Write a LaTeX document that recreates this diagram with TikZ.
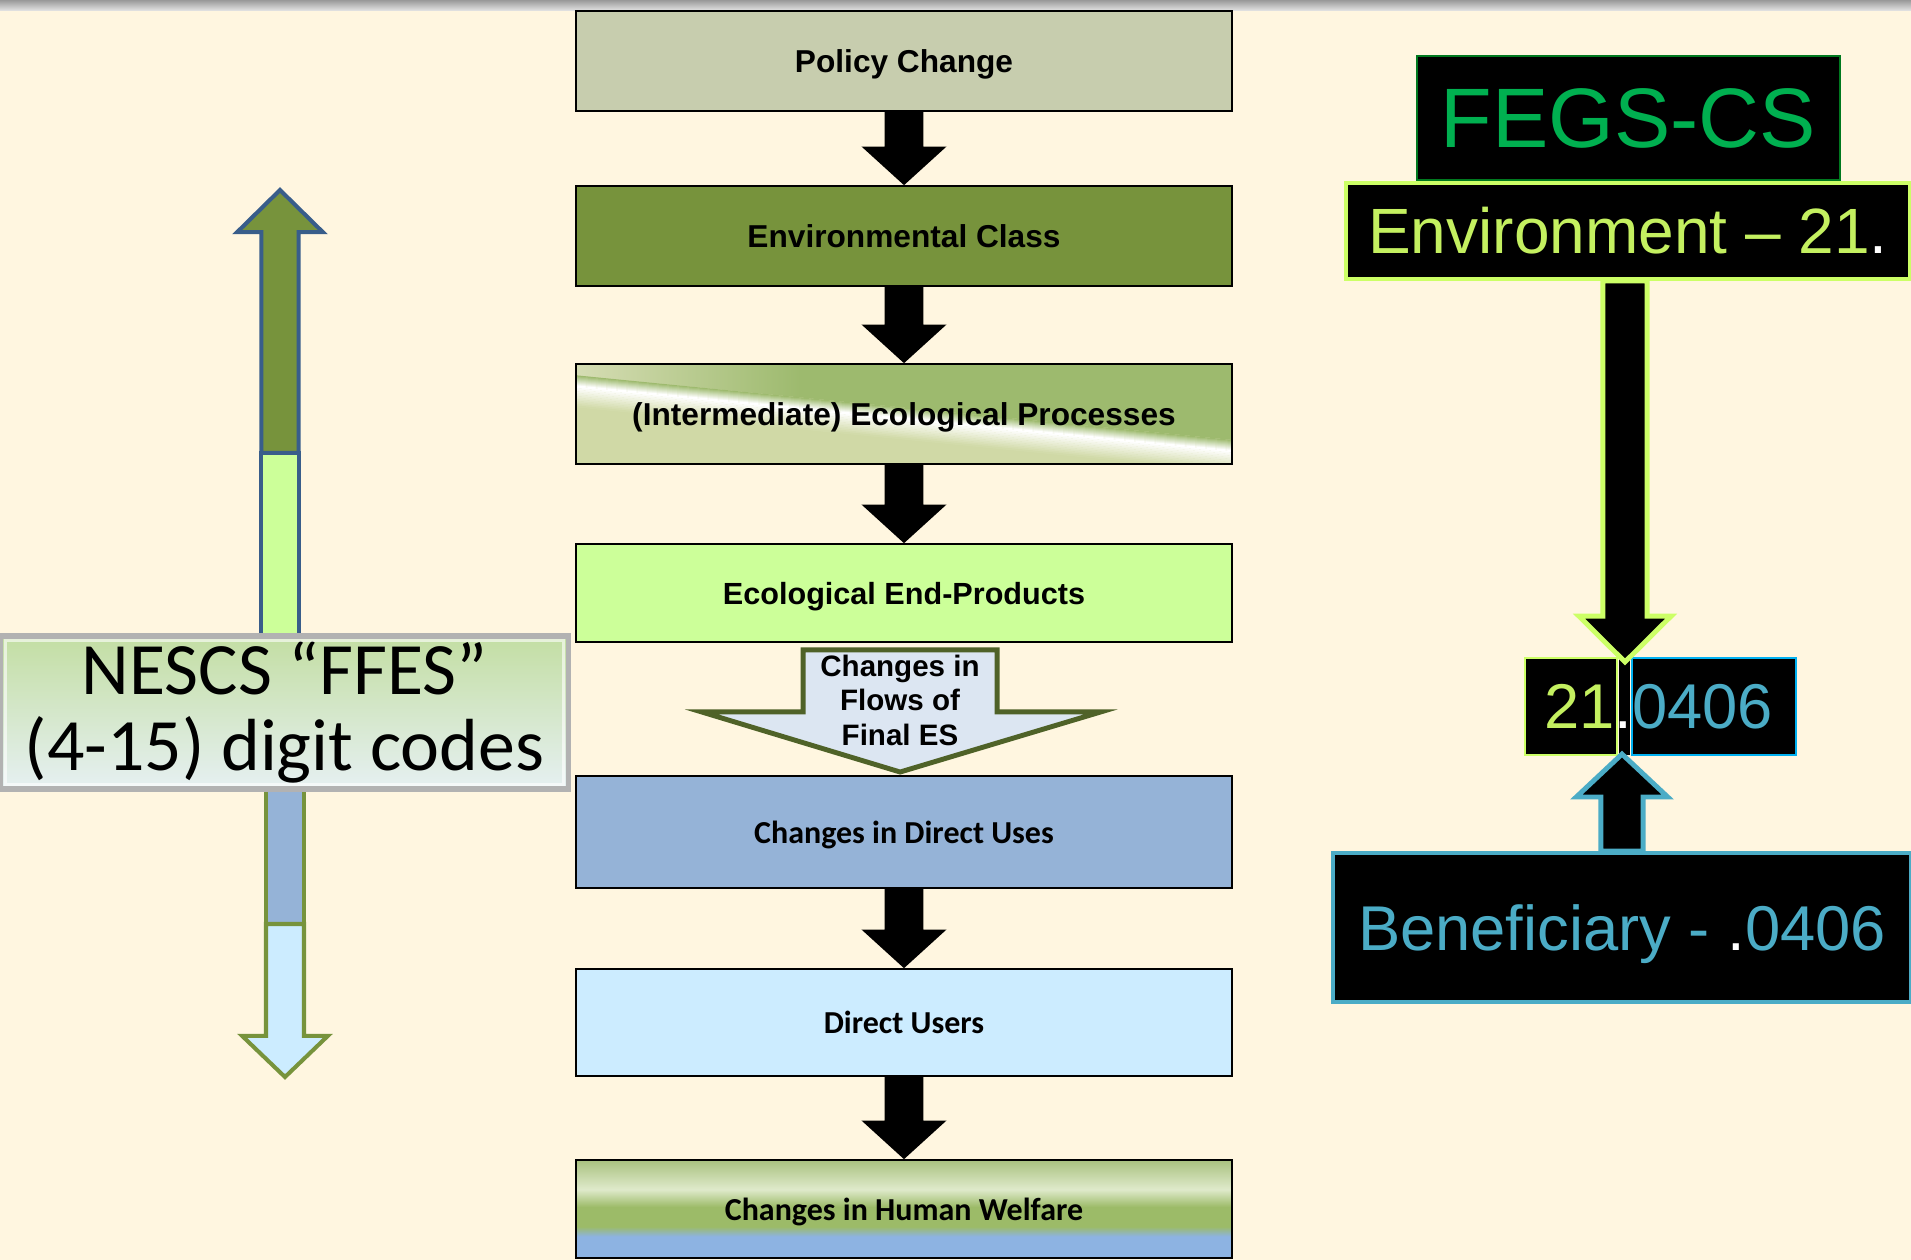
\documentclass[tikz,border=0pt]{standalone}
\usepackage{fontspec}
\setmainfont{Liberation Sans}
\newfontfamily\calibri{Carlito}
\usetikzlibrary{calc}

\definecolor{cream}{HTML}{FFF6E0}
\definecolor{policyfill}{HTML}{C7CDAE}
\definecolor{envfill}{HTML}{77933C}
\definecolor{intlight}{HTML}{D0D9A6}
\definecolor{intpale}{HTML}{D6DDB4}
\definecolor{intdark}{HTML}{9DBA6E}
\definecolor{endfill}{HTML}{CCFF99}
\definecolor{usesfill}{HTML}{95B3D7}
\definecolor{usersfill}{HTML}{CCECFF}
\definecolor{welfareblue}{HTML}{8DB3E2}
\definecolor{welfaregreen}{HTML}{9CBB68}
\definecolor{welfarepale}{HTML}{DFEACB}
\definecolor{welfaretop}{HTML}{A9C17F}
\definecolor{flowfill}{HTML}{DCE6F2}
\definecolor{flowline}{HTML}{4F6228}
\definecolor{upline}{HTML}{385D8A}
\definecolor{downline}{HTML}{77933C}
\definecolor{fegsgreen}{HTML}{00B050}
\definecolor{fegsline}{HTML}{00791F}
\definecolor{envtext}{HTML}{C4F060}
\definecolor{envline}{HTML}{CCFF66}
\definecolor{benblue}{HTML}{4BACC6}
\definecolor{codeblue}{HTML}{00B0F0}
\definecolor{nescstop}{HTML}{C3DEA3}
\definecolor{nescsbottom}{HTML}{E6F0F2}

\pgfdeclareverticalshading{welfare}{100bp}{color(0bp)=(welfareblue); color(36bp)=(welfareblue); color(41bp)=(welfaregreen); color(51bp)=(welfaregreen); color(60bp)=(welfarepale); color(75bp)=(welfaretop); color(100bp)=(welfaretop)}

\newcommand{\blockarrow}[6]{%
	\coordinate (ba-s) at #2;
	\coordinate (ba-e) at #3;
	\coordinate (ba-h) at ($(ba-e)!#6!(ba-s)$);
	\path[#1] ($(ba-s)!#4!90:(ba-e)$) -- ($(ba-h)!#4!-90:(ba-s)$) -- ($(ba-h)!#5!-90:(ba-s)$) --
		(ba-e) -- ($(ba-h)!#5!90:(ba-s)$) -- ($(ba-h)!#4!90:(ba-s)$) -- ($(ba-s)!#4!-90:(ba-e)$) -- cycle;}

\begin{document}
\begin{tikzpicture}[x=0.01cm, y=-0.01cm,
		box/.style={draw=black, line width=0.45pt, minimum width=6.56cm, minimum height=1cm, inner sep=0pt, text depth=0pt,
			font=\bfseries\fontsize{9}{11}\selectfont},
		calbox/.style={box, font=\calibri\bfseries\fontsize{9.1}{11}\selectfont},
		codebox/.style={fill=black, inner sep=0pt},
		bigtext/.style={font=\fontsize{18.2}{22}\selectfont}]
	\useasboundingbox (0,0) rectangle (1911,1260);
	\fill[cream] (0,0) rectangle (1911,1260);
	\shade[top color=gray!80, bottom color=gray!25] (0,0) rectangle (1911,10);
	
	\begin{scope}
		\clip (576,364) rectangle (1232,464);
		\fill[intlight] (576,364) rectangle (1232,464);
		\shade[left color=intpale, right color=intdark] (576,364) -- (800,364) -- (800,397.4) -- (576,375.3) -- cycle;
		\fill[intdark] (799,364) -- (1232,364) -- (1232,439.9) -- (799,397.3) -- cycle;
		\foreach \i in {0,...,10}
			\fill[white!\i0!intdark] (576,375.3+\i) -- (1232,439.9+\i) -- (1232,441.2+\i) -- (576,376.6+\i) -- cycle;
		\foreach \i [evaluate=\i as \w using int(100-8*\i)] in {0,...,12}
			\fill[white!\w!intlight] (576,386.3+1.6*\i) -- (1232,450.9+1.6*\i) -- (1232,452.8+1.6*\i) -- (576,388.2+1.6*\i) -- cycle;
	\end{scope}
	
	\node[box, fill=policyfill] (policy) at (904,61) {Policy Change};
	\node[box, fill=envfill] (envclass) at (904,236) {Environmental Class};
	\node[box] (process) at (904,414) {(Intermediate) Ecological Processes};
	\node[box, fill=endfill, minimum height=0.98cm, font=\bfseries\fontsize{8.7}{11}\selectfont] (endprod) at (904,593) {Ecological End-Products};
	\node[calbox, fill=usesfill, minimum height=1.12cm] (uses) at (904,832) {Changes in Direct Uses};
	\node[calbox, fill=usersfill, minimum height=1.07cm] (users) at (904,1022.5) {Direct Users};
	\node[calbox, shade, shading=welfare, minimum height=0.98cm] (welfare) at (904,1209) {Changes in Human Welfare};
	
	\blockarrow{fill=black}{(policy.south)}{(envclass.north)}{5.5pt}{12.1pt}{11pt}
	\blockarrow{fill=black}{(envclass.south)}{(process.north)}{5.5pt}{12.1pt}{11pt}
	\blockarrow{fill=black}{(process.south)}{(endprod.north)}{5.5pt}{12.1pt}{11pt}
	\blockarrow{fill=black}{(uses.south)}{(users.north)}{5.5pt}{12.1pt}{11pt}
	\blockarrow{fill=black}{(users.south)}{(welfare.north)}{5.5pt}{12.1pt}{11pt}
	
	\draw[fill=flowfill, draw=flowline, line width=1.4pt] let \p1=(endprod.south), \p2=(uses.north) in
		(\x2-28.7pt,\y1-2pt) -- (\x2+26.5pt,\y1-2pt) -- (\x2+26.5pt,\y2+18pt) -- (\x2+56pt,\y2+18pt) --
		(\x2-1.1pt,\y2+0.9pt) -- (\x2-57.6pt,\y2+18pt) -- (\x2-28.7pt,\y2+18pt) -- cycle;
	\node[align=center, inner sep=0pt, font=\bfseries\fontsize{8.4}{9.8}\selectfont] (flowtext) at (900,700) {Changes in\\Flows of\\Final ES};
	
	\blockarrow{fill=envfill, draw=upline, line width=1.15pt}{(280,453)}{(280,190)}{5.3pt}{12.2pt}{12pt}
	\draw[fill=endfill, draw=upline, line width=1.15pt] (261.4,453) rectangle (298.6,635);
	\draw[fill=usesfill, draw=downline, line width=1.15pt] (266,790) rectangle (304,924);
	\blockarrow{fill=usersfill, draw=downline, line width=1.15pt}{(285,924)}{(285,1077)}{5.4pt}{12.2pt}{11.7pt}
	
	\node[top color=nescstop, bottom color=nescsbottom, draw=gray!60, line width=1.5pt, minimum width=5.67cm, minimum height=1.53cm,
		inner sep=0pt, align=center, font=\calibri\fontsize{21}{21.6}\selectfont] (nescs) at (284.5,712.5) {NESCS “FFES”\\(4-15) digit codes};
	\draw[white, opacity=0.6, line width=0.8pt] ($(nescs.north west)+(7,7)$) rectangle ($(nescs.south east)+(-7,-7)$);
	
	\node[codebox, draw=fegsline, line width=0.6pt, minimum width=4.23cm, minimum height=1.24cm, text=fegsgreen,
		font=\fontsize{24}{28}\selectfont] (fegs) at (1628.5,118) {FEGS-CS};
	\node[codebox, bigtext, draw=envline, line width=1pt, minimum width=5.64cm, minimum height=0.96cm, text=envtext] (envcode) at (1628,231)
		{Environment – 21{\color{white}.}};
	\node[codebox, draw=envline, line width=0.6pt, minimum width=0.92cm, minimum height=0.97cm] (code21) at (1571,706.5) {};
	\node[codebox, draw=codeblue, line width=0.6pt, minimum width=1.64cm, minimum height=0.97cm] (code0406) at (1714,706.5) {};
	\fill[black] ($(code21.north east)+(1,1)$) rectangle ($(code0406.south west)+(-1,-1)$);
	\node[inner sep=0pt, font=\fontsize{18}{22}\selectfont] (codetext) at (1658.5,706.5)
		{{\color{envtext}21}{\color{white}.}{\color{benblue}0406}};
	\node[codebox, bigtext, draw=benblue, line width=1pt, minimum width=5.78cm, minimum height=1.49cm, text=benblue, text depth=0pt,
		font=\fontsize{18}{22}\selectfont] (benef) at (1622,927.5) {Beneficiary - {\color{white}.}0406};
	
	\blockarrow{fill=black, draw=envline, line width=1.4pt}{($(envcode.south)+(-3,0)$)}{($(envcode.south |- code21.north)+(-3,5)$)}{6.3pt}{13.1pt}{13pt}
	\blockarrow{fill=black, draw=benblue, line width=1.4pt}{(benef.north)}{($(benef.north |- code21.south)+(0,-2)$)}{6pt}{13pt}{12.2pt}
\end{tikzpicture}
\end{document}
